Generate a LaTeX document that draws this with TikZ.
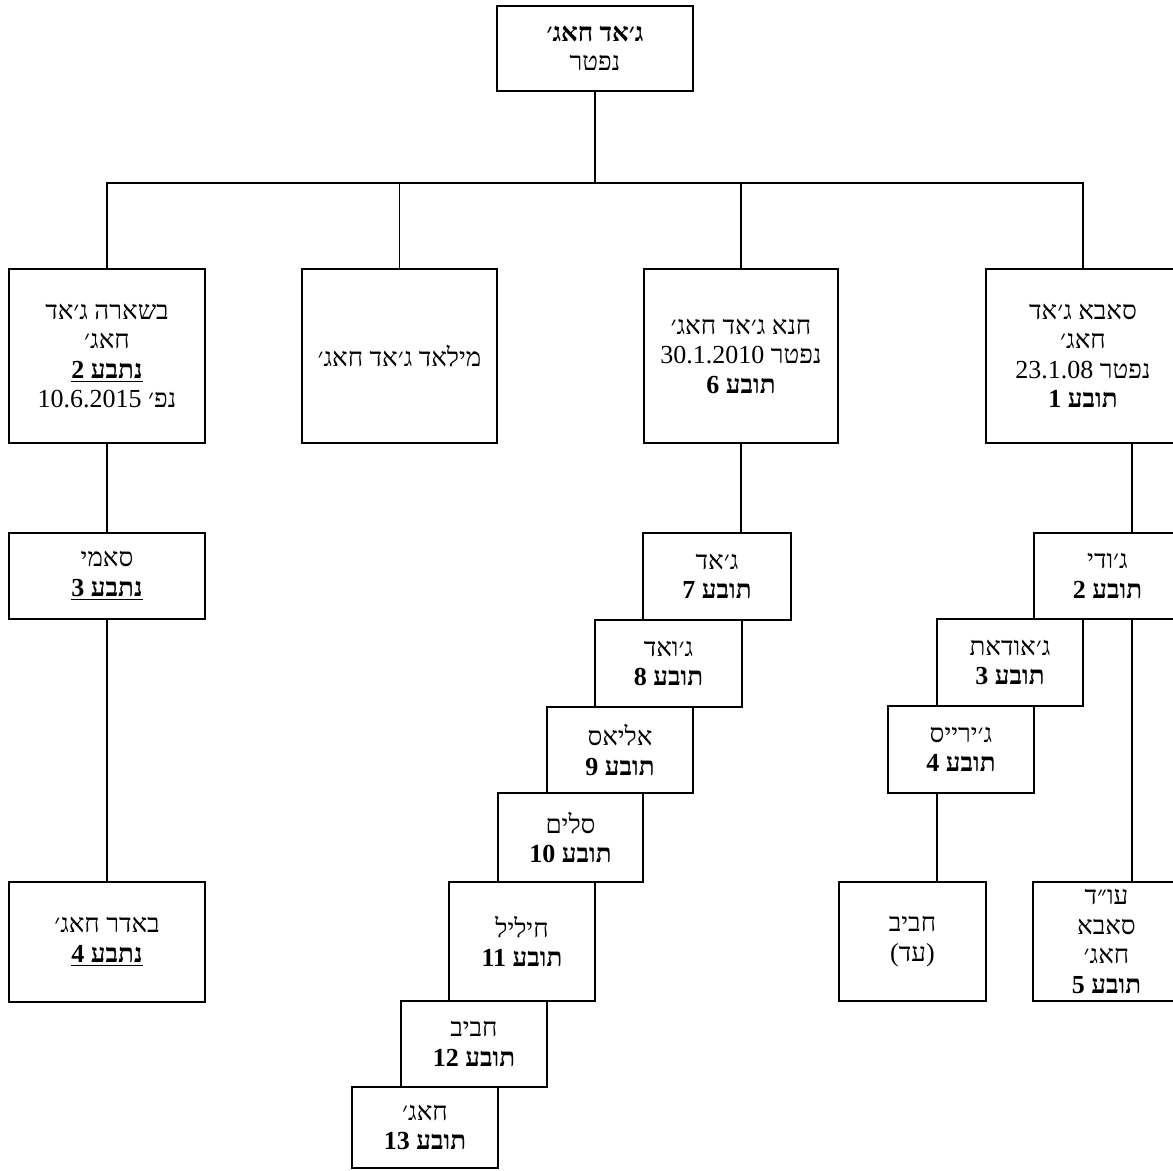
\documentclass[tikz,border=0pt]{standalone}
\usepackage{fontspec}
\setmainfont{Liberation Serif}[Script=Hebrew]
\TeXXeTstate=1
\newcommand\hb[1]{\beginR#1\endR}
\newcommand\nm[1]{\beginL#1\endL}
\newcommand\ub[1]{\underline{\hb{\textbf{#1}}}}
\newcommand\bb[1]{\hb{\textbf{#1}}}
\tikzset{
  pbox/.style 2 args={draw, line width=1.1pt, minimum width=#1*0.5pt, minimum height=#2*0.5pt,
    inner sep=0pt, outer sep=0pt, align=center, font=\fontsize{13}{14.75}\selectfont},
  thinbox/.style={line width=0.7pt},
  conn/.style={line width=0.75pt}
}
\begin{document}
\begin{tikzpicture}[x=0.5pt,y=-0.5pt]
\useasboundingbox (0,0) rectangle (1173,1171);
\clip (0,0) rectangle (1173,1171);
% top
\node[pbox={196}{85}] (top) at (595,48.5) {\bb{ג׳אד חאג׳}\\\hb{נפטר}};
% level 1
\node[pbox={196}{174}] (b1) at (107,356) {\hb{בשארה ג׳אד}\\\hb{חאג׳}\\\ub{נתבע \nm{2}}\\\hb{נפ׳ \nm{10.6.2015}}};
\node[pbox={195}{174},thinbox] (b2) at (399.5,356) {\hb{מילאד ג׳אד חאג׳}};
\node[pbox={194}{174},thinbox] (b3) at (741,356) {\hb{חנא ג׳אד חאג׳}\\\hb{נפטר \nm{30.1.2010}}\\\bb{תובע \nm{6}}};
\node[pbox={194}{174}] (b4) at (1083,356) {\hb{סאבא ג׳אד}\\\hb{חאג׳}\\\hb{נפטר \nm{23.1.08}}\\\bb{תובע \nm{1}}};
% left column
\node[pbox={196}{86}] (sami) at (107,576) {\hb{סאמי}\\\ub{נתבע \nm{3}}};
\node[pbox={196}{120}] (badr) at (107,942) {\hb{באדר חאג׳}\\\ub{נתבע \nm{4}}};
% middle chain
\node[pbox={148}{87}] (jad) at (717,576.5) {\hb{ג׳אד}\\\bb{תובע \nm{7}}};
\node[pbox={147}{87}] (juad) at (668.5,663.5) {\hb{ג׳ואד}\\\bb{תובע \nm{8}}};
\node[pbox={146}{86}] (elias) at (620,750) {\hb{אליאס}\\\bb{תובע \nm{9}}};
\node[pbox={145}{89}] (salim) at (570.5,837.5) {\hb{סלים}\\\bb{תובע \nm{10}}};
\node[pbox={146}{119}] (hilil) at (522,941.5) {\hb{חיליל}\\\bb{תובע \nm{11}}};
\node[pbox={146}{86}] (haviv) at (474,1044) {\hb{חביב}\\\bb{תובע \nm{12}}};
\node[pbox={146}{81}] (hajj) at (425,1127.5) {\hb{חאג׳}\\\bb{תובע \nm{13}}};
% right chain
\node[pbox={147}{86}] (judi) at (1107.5,576) {\hb{ג׳ודי}\\\bb{תובע \nm{2}}};
\node[pbox={146}{87}] (judat) at (1010,662.5) {\hb{ג׳אודאת}\\\bb{תובע \nm{3}}};
\node[pbox={146}{87}] (jiries) at (961,749.5) {\hb{ג׳ירייס}\\\bb{תובע \nm{4}}};
\node[pbox={147}{119}] (haved) at (912.5,941.5) {\hb{חביב}\\\hb{(עד)}};
\node[pbox={147}{119}] (lawyer) at (1106.5,941.5) {\hb{עו״ד}\\\hb{סאבא}\\\hb{חאג׳}\\\bb{תובע \nm{5}}};
% connectors
\coordinate (bus) at (595,183);
\coordinate (rline) at (1132,0);
\coordinate (hline) at (937,0);
\draw[conn] (top.south) -- (top.south |- bus);
\draw[conn] (b1.north) -- (b1.north |- bus) -- (b4.north |- bus) -- (b4.north);
\draw[conn] (b2.north) -- (b2.north |- bus);
\draw[conn] (b3.north) -- (b3.north |- bus);
\draw[conn] (b1.south) -- (sami.north);
\draw[conn] (sami.south) -- (badr.north);
\draw[conn] (b3.south) -- (b3.south |- jad.north);
\draw[conn] (b4.south -| rline) -- (judi.north -| rline);
\draw[conn] (judi.south -| rline) -- (lawyer.north -| rline);
\draw[conn] (jiries.south -| hline) -- (haved.north -| hline);
\end{tikzpicture}
\end{document}
